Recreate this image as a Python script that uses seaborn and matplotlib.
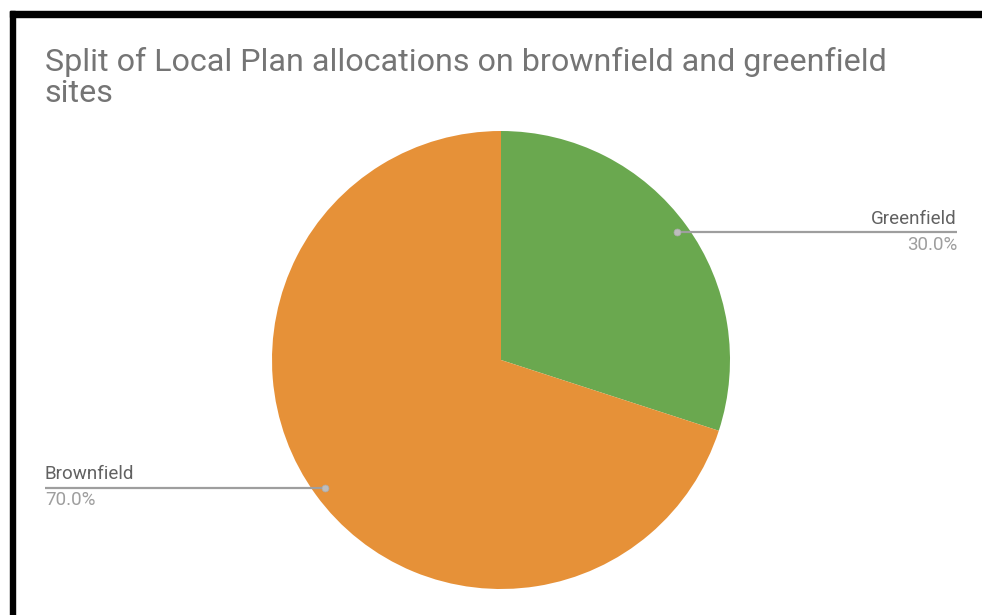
import numpy as np
import matplotlib
matplotlib.use("Agg")
import matplotlib.pyplot as plt
from matplotlib.patches import Rectangle
import seaborn as sns

# Data
categories = ["Greenfield", "Brownfield"]
shares = [30.0, 70.0]
colors = ["#6aa84f", "#e69138"]
title = "Split of Local Plan allocations on brownfield and greenfield\nsites"

sns.set_theme(style="white")
plt.rcParams["font.family"] = ["Roboto", "DejaVu Sans"]

W, H, DPI = 982, 615, 100
fig = plt.figure(figsize=(W / DPI, H / DPI), dpi=DPI)
fig.patch.set_facecolor("white")

# Pie axes: centre and radius in pixels
cx, cy, R = 501, 360, 229
ax = fig.add_axes([(cx - R) / W, (H - cy - R) / H, 2 * R / W, 2 * R / H])
wedges, _ = ax.pie(shares, colors=colors, startangle=90, counterclock=False,
                   wedgeprops=dict(linewidth=0), radius=1.0)
ax.set_xlim(-1, 1)
ax.set_ylim(-1, 1)
ax.set_aspect("equal")
ax.axis("off")

# Leader lines and labels
label_x = (957 - cx) / R
for w, name, val in zip(wedges, categories, shares):
    mid = np.deg2rad((w.theta1 + w.theta2) / 2)
    px, py = 0.95 * np.cos(mid), 0.95 * np.sin(mid)
    side = 1 if px > 0 else -1
    ex = side * label_x
    ax.plot([px, ex], [py, py], color="#9e9e9e", lw=1.6, clip_on=False,
            solid_capstyle="butt", zorder=3)
    ax.plot([px], [py], marker="o", ms=5, color="#bdbdbd", mec="#aaaaaa",
            mew=0.5, clip_on=False, zorder=4)
    ha = "right" if side > 0 else "left"
    ax.text(ex, py + 0.02, name, ha=ha, va="bottom", fontsize=13.5,
            color="#616161", clip_on=False)
    ax.text(ex, py - 0.015, f"{val:.1f}%", ha=ha, va="top", fontsize=13.5,
            color="#9e9e9e", clip_on=False)

# Title
fig.text(45 / W, 1 - 47 / H, title, ha="left", va="top", fontsize=23.2,
         color="#757575", linespacing=1.1)

# Frame edges
fig.patches.append(Rectangle((10 / W, 0), 5 / W, (H - 11) / H,
                             transform=fig.transFigure, color="black", zorder=10))
fig.patches.append(Rectangle((10 / W, 1 - 17 / H), 1 - 10 / W, 6 / H,
                             transform=fig.transFigure, color="black", zorder=10))

fig.savefig("out.png", dpi=DPI, facecolor="white")
